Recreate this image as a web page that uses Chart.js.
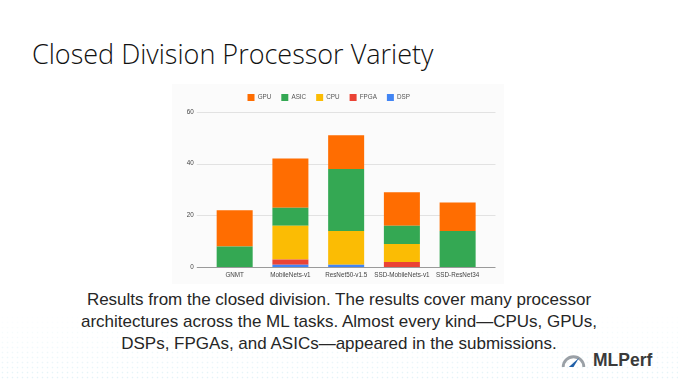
<!DOCTYPE html>
<html>
<head>
<meta charset="utf-8">
<script src="https://cdn.jsdelivr.net/npm/chart.js@4.4.1/dist/chart.umd.min.js"></script>
<style>
  html, body { margin: 0; padding: 0; background: #fff; }
  #slide { position: relative; width: 678px; height: 381px; overflow: hidden; background: #fff; }
  #dots {
    position: absolute; left: 0; top: 310px; width: 678px; height: 71px;
    background-image: radial-gradient(circle, rgba(110, 190, 215, 0.55) 0.7px, transparent 1.1px);
    background-size: 5px 5px;
    -webkit-mask-image: linear-gradient(to bottom, transparent 0%, rgba(0,0,0,0.4) 60%, rgba(0,0,0,0.7) 100%);
    mask-image: linear-gradient(to bottom, transparent 0%, rgba(0,0,0,0.4) 60%, rgba(0,0,0,0.7) 100%);
    opacity: 0.5;
  }
  #title {
    position: absolute; left: 32px; top: 35px; margin: 0;
    font-family: 'Open Sans', sans-serif; font-weight: 300; font-size: 27px;
    color: #111; white-space: nowrap;
  }
  #chart-box { position: absolute; left: 172px; top: 84px; width: 332px; height: 200px; background: #fbfbfb; }
  #caption {
    position: absolute; left: 0; top: 289px; width: 678px; margin: 0; text-align: center;
    font-family: 'Liberation Sans', Arial, sans-serif; font-size: 17px; line-height: 22px; color: #262626;
  }
  #logo { position: absolute; left: 560px; top: 350px; display: flex; align-items: center; gap: 6px; }
  #logo span { font-family: 'Liberation Sans', Arial, sans-serif; font-weight: 700; font-size: 17.5px; color: #3a3a3a; }
</style>
</head>
<body>
<div id="slide">
  <div id="dots"></div>
  <h1 id="title">Closed Division Processor Variety</h1>
  <div id="chart-box"><canvas id="proc-chart" width="332" height="200"></canvas></div>
  <p id="caption">Results from the closed division. The results cover many processor<br>architectures across the ML tasks. Almost every kind—CPUs, GPUs,<br>DSPs, FPGAs, and ASICs—appeared in the submissions.</p>
  <div id="logo">
    <svg width="27" height="15" viewBox="0 0 28 16">
      <path d="M3 15 A11 11 0 0 1 25 15" fill="none" stroke="#9aa0a6" stroke-width="3"/>
      <path d="M9 15 L20 5 L14 15 Z" fill="#1f5fa8"/>
    </svg>
    <span>MLPerf</span>
  </div>
</div>

<script>
// ---- Data ----
const categories = ['GNMT', 'MobileNets-v1', 'ResNet50-v1.5', 'SSD-MobileNets-v1', 'SSD-ResNet34'];
const gpuCounts  = [14, 19, 13, 13, 11];
const asicCounts = [8, 7, 24, 7, 14];
const cpuCounts  = [0, 13, 13, 7, 0];
const fpgaCounts = [0, 2, 0, 2, 0];
const dspCounts  = [0, 1, 1, 0, 0];
const yTicks     = [0, 20, 40, 60];

// bottom of stack first; legend is reversed so GPU reads first
const series = [
  { label: 'DSP',  data: dspCounts,  color: '#4285f4' },
  { label: 'FPGA', data: fpgaCounts, color: '#ea4335' },
  { label: 'CPU',  data: cpuCounts,  color: '#fbbc04' },
  { label: 'ASIC', data: asicCounts, color: '#34a853' },
  { label: 'GPU',  data: gpuCounts,  color: '#ff6d01' }
];

const tickFont = { family: "'Liberation Sans', Arial, sans-serif", size: 6.3 };

// Gridlines wider than the bar area, like Sheets charts
const gridPlugin = {
  id: 'wideGrid',
  beforeDatasetsDraw(chart) {
    const { ctx, chartArea, scales: { y } } = chart;
    ctx.save();
    ctx.lineWidth = 1;
    yTicks.forEach(v => {
      if (v === 0) return;
      const py = Math.round(y.getPixelForValue(v)) + 0.5;
      ctx.strokeStyle = '#e2e2e2';
      ctx.beginPath();
      ctx.moveTo(chartArea.left - 10, py);
      ctx.lineTo(chartArea.right + 10, py);
      ctx.stroke();
    });
    ctx.restore();
  },
  afterDatasetsDraw(chart) {
    const { ctx, chartArea, scales: { y } } = chart;
    const py = Math.round(y.getPixelForValue(0)) + 0.5;
    ctx.save();
    ctx.strokeStyle = '#9a9a9a';
    ctx.lineWidth = 1;
    ctx.beginPath();
    ctx.moveTo(chartArea.left - 10, py);
    ctx.lineTo(chartArea.right + 10, py);
    ctx.stroke();
    ctx.restore();
  }
};

// Fix legend height so the plot top lands where the reference has it
const legendHeight = {
  id: 'legendHeight',
  beforeInit(chart) {
    const origFit = chart.legend.fit;
    chart.legend.fit = function () {
      origFit.call(this);
      this.height = 28;
    };
  }
};

new Chart(document.getElementById('proc-chart'), {
  type: 'bar',
  data: {
    labels: categories,
    datasets: series.map(s => ({
      label: s.label,
      data: s.data,
      backgroundColor: s.color,
      borderWidth: 0,
      barPercentage: 0.646,
      categoryPercentage: 1
    }))
  },
  options: {
    responsive: false,
    animation: false,
    layout: { padding: { left: 0, right: 18.5, top: 0, bottom: 0 } },
    plugins: {
      legend: {
        position: 'top',
        reverse: true,
        labels: {
          boxWidth: 7,
          boxHeight: 7,
          padding: 10,
          color: '#555',
          font: tickFont
        }
      },
      tooltip: { enabled: false }
    },
    scales: {
      x: {
        stacked: true,
        grid: { display: false, drawTicks: false },
        border: { display: false },
        ticks: { color: '#444', font: tickFont, padding: 4, maxRotation: 0, autoSkip: false },
        afterFit: s => { s.height = 16; }
      },
      y: {
        stacked: true,
        min: 0,
        max: 60,
        afterBuildTicks: s => { s.ticks = yTicks.map(v => ({ value: v })); },
        grid: { display: false, drawTicks: false },
        border: { display: false },
        ticks: { color: '#444', font: tickFont, padding: 13 },
        afterFit: s => { s.width = 34.8; }
      }
    }
  },
  plugins: [gridPlugin, legendHeight]
});
</script>
</body>
</html>
